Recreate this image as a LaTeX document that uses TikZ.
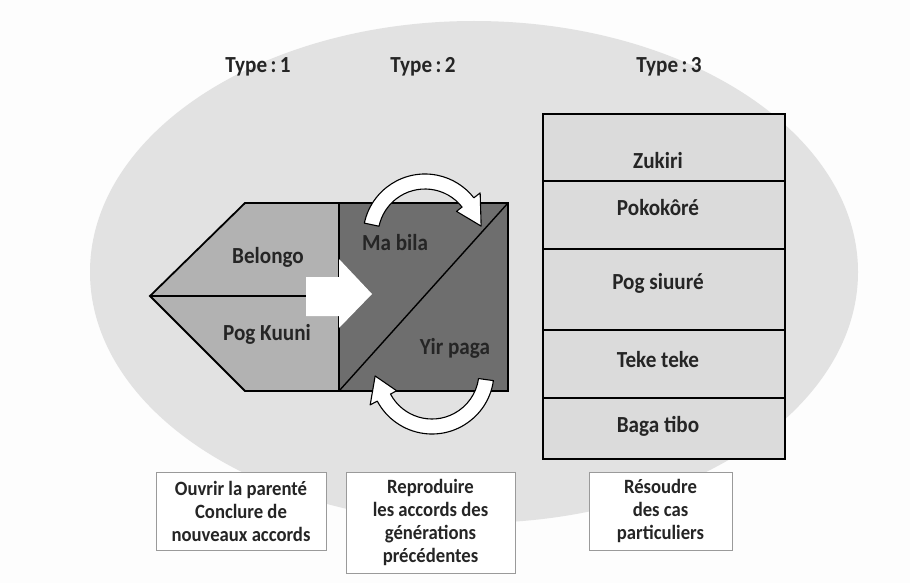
\documentclass[tikz,border=0pt]{standalone}
\usepackage{fontspec}
\setmainfont{Carlito}[FakeStretch=0.92]
\usetikzlibrary{calc}
\definecolor{bgc}{HTML}{FDFDFD}
\definecolor{ellc}{HTML}{E2E2E2}
\definecolor{lightg}{HTML}{B2B2B2}
\definecolor{darkg}{HTML}{6E6E6E}
\definecolor{cellg}{HTML}{DBDBDB}
\definecolor{txt}{HTML}{252525}
\definecolor{boxline}{HTML}{9A9A9A}
\begin{document}
\begin{tikzpicture}[x=1pt,y=1pt,
  lbl/.style={font=\fontsize{23}{26}\selectfont\bfseries, text=txt, inner sep=0pt},
  desc/.style={draw=boxline, line width=0.9pt, fill=white, font=\fontsize{20.3}{23}\selectfont\bfseries, text=txt, align=center, inner sep=0pt},
  shapeline/.style={draw=black, line width=1.8pt, line join=miter},
  bendarrow/.style={draw=black, line width=1.1pt, fill=white, line join=round}]
\fill[bgc] (0,0) rectangle (910,-583);
\useasboundingbox (0,0) rectangle (910,-583);
\fill[ellc] (474,-272) ellipse [x radius=384, y radius=251];
% type labels
\node[lbl] (t1) at (258,-67) {Type\hspace{3.5pt}:\hspace{3.5pt}1};
\node[lbl] (t2) at (423,-67) {Type\hspace{3.5pt}:\hspace{3.5pt}2};
\node[lbl] (t3) at (669,-67) {Type\hspace{3.5pt}:\hspace{3.5pt}3};
% type 1 pentagon
\filldraw[fill=lightg, shapeline] (150,-296) -- (245,-203) -- (339,-203) -- (339,-391) -- (245,-391) -- cycle;
\draw[shapeline] (150,-296) -- (306,-296);
% type 2 square
\filldraw[fill=darkg, shapeline] (339,-203) rectangle (508,-391);
\draw[line width=1.4pt] (339,-391) -- (508,-203);
% white block arrow
\fill[white] (306,-277) -- (339,-277) -- (339,-259) -- (372,-294) -- (339,-328) -- (339,-316) -- (306,-316) -- cycle;
% curved arrows
\coordinate (c1) at (425,-236);
\filldraw[bendarrow] ($(c1)+(168:62)$) arc[start angle=168, end angle=38, radius=62]
  -- ($(c1)+(38:70)$) -- ($(c1)+(10:57)$) -- ($(c1)+(38:40)$) -- ($(c1)+(38:47)$)
  arc[start angle=38, end angle=168, radius=47] -- cycle;
\coordinate (c2) at (432,-372);
\filldraw[bendarrow] ($(c2)+(-8:62)$) arc[start angle=-8, end angle=-152, radius=62]
  -- ($(c2)+(-152:70)$) -- ($(c2)+(-176:57)$) -- ($(c2)+(-152:40)$) -- ($(c2)+(-152:47)$)
  arc[start angle=-152, end angle=-8, radius=47] -- cycle;
% labels in shapes
\node[lbl] (belongo) at (268,-257) {Belongo};
\node[lbl] (pogk) at (267,-334) {Pog Kuuni};
\node[lbl] (mabila) at (395,-243) {Ma bila};
\node[lbl] (yir) at (455,-348) {Yir paga};
% type 3 stack
\filldraw[fill=cellg, shapeline] (543,-114) rectangle (785,-459);
\foreach \yy in {181,249,330,398} {\draw[shapeline] (543,-\yy) -- (785,-\yy);}
\node[lbl] (zuk) at (658,-161) {Zukiri};
\node[lbl] (pok) at (658,-208) {Pokokôré};
\node[lbl] (pogs) at (658,-283) {Pog siuuré};
\node[lbl] (teke) at (658,-360) {Teke teke};
\node[lbl] (baga) at (658,-426) {Baga tibo};
% description boxes
\node[desc, minimum width=170, minimum height=78] (d1) at (241,-511) {Ouvrir la parenté\\Conclure de\\nouveaux accords};
\node[desc, minimum width=169, minimum height=101] (d2) at (430.5,-522.5) {Reproduire\\les accords des\\générations\\précédentes};
\node[desc, minimum width=143, minimum height=78] (d3) at (660.5,-511) {Résoudre\\des cas\\particuliers};
\end{tikzpicture}
\end{document}
